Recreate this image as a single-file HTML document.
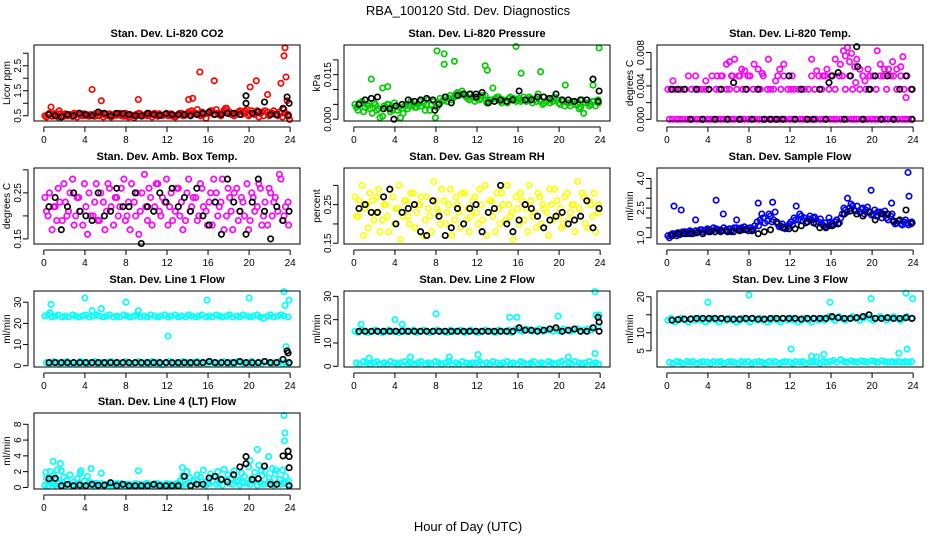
<!DOCTYPE html>
<html><head><meta charset="utf-8"><style>
html,body{margin:0;padding:0;background:#fff;}
svg{display:block;font-family:"Liberation Sans",Arial,sans-serif;}
</style></head><body>
<svg id="chart" width="936" height="540" viewBox="0 0 936 540">
<text x="468" y="15" text-anchor="middle" font-size="13">RBA_100120  Std. Dev. Diagnostics</text>
<text x="468" y="531" text-anchor="middle" font-size="13">Hour of Day (UTC)</text>
<g id="panels"></g>
</svg>
<script>
const hours=[0.1,0.4,0.8,1.1,1.4,1.8,2.1,2.4,2.8,3.1,3.4,3.8,4.1,4.4,4.8,5.1,5.4,5.8,6.1,6.4,6.8,7.1,7.4,7.8,8.1,8.4,8.8,9.1,9.4,9.8,10.1,10.4,10.8,11.1,11.4,11.8,12.1,12.4,12.8,13.1,13.4,13.8,14.1,14.4,14.8,15.1,15.4,15.8,16.1,16.4,16.8,17.1,17.4,17.8,18.1,18.4,18.8,19.1,19.4,19.8,20.1,20.4,20.8,21.1,21.4,21.8,22.1,22.4,22.8,23.1,23.4,23.8];
const hoursB=[0.25,0.55,0.95,1.25,1.55,1.95,2.25,2.55,2.95,3.25,3.55,3.95,4.25,4.55,4.95,5.25,5.55,5.95,6.25,6.55,6.95,7.25,7.55,7.95,8.25,8.55,8.95,9.25,9.55,9.95,10.25,10.55,10.95,11.25,11.55,11.95,12.25,12.55,12.95,13.25,13.55,13.95,14.25,14.55,14.95,15.25,15.55,15.95,16.25,16.55,16.95,17.25,17.55,17.95,18.25,18.55,18.95,19.25,19.55,19.95,20.25,20.55,20.95,21.25,21.55,21.95,22.25,22.55,22.95,23.25,23.55,23.85];
const blackHours=[0.5,1.1,1.7,2.3,2.9,3.5,4.1,4.7,5.3,5.9,6.5,7.1,7.7,8.3,8.9,9.5,10.1,10.7,11.3,11.9,12.5,13.1,13.7,14.3,14.9,15.5,16.1,16.7,17.3,17.9,18.5,19.1,19.7,20.3,20.9,21.5,22.1,22.7,23.3,23.9];
const xTicks=[0,4,8,12,16,20,24];

const co2A=[0.5,0.55,0.48,0.6,0.45,0.52,0.58,0.5,0.47,0.55,0.6,0.5,0.52,0.48,0.55,0.6,0.5,0.45,0.55,0.58,0.5,0.52,0.6,0.48,0.5,0.55,0.42,0.5,0.58,0.52,0.5,0.55,0.6,0.48,0.52,0.55,0.5,0.58,0.45,0.55,0.6,0.52,0.65,0.7,0.6,0.55,0.65,0.4,0.6,0.7,0.75,0.55,0.6,0.8,0.65,0.55,0.6,0.7,0.65,0.75,0.55,0.6,0.7,0.6,0.5,0.65,0.55,0.7,0.5,0.6,0.75,0.55];
const co2B=[0.45,0.6,0.55,0.5,0.58,0.48,0.5,0.55,0.6,0.45,0.52,0.58,0.5,0.55,0.48,0.52,0.6,0.55,0.5,0.45,0.58,0.55,0.5,0.6,0.45,0.52,0.55,0.6,0.48,0.55,0.6,0.45,0.52,0.58,0.5,0.6,0.55,0.48,0.5,0.6,0.5,0.58,0.55,0.6,0.75,0.5,0.55,0.6,0.7,0.55,0.6,0.5,0.72,0.6,0.55,0.5,0.65,0.55,0.6,0.5,0.7,0.55,0.45,0.65,0.7,0.5,0.6,0.55,0.65,0.45,0.6,0.5];
const co2OutHours=[0.7,1.5,4.7,5.6,9.2,14.1,14.5,15.2,16.6,17.7,19.6,20.1,20.7,21.8,23.1,23.4,23.5,23.6,23.7,23.95];
const co2Out=[0.85,0.7,1.55,1.1,1.15,1.15,1.2,2.25,1.9,0.8,0.7,1.65,1.9,1.35,1.8,2.9,3.22,2.05,1.1,0.35];
const co2Black=[0.55,0.5,0.45,0.55,0.5,0.6,0.55,0.5,0.65,0.6,0.5,0.6,0.58,0.55,0.5,0.5,0.6,0.55,0.52,0.58,0.55,0.55,0.55,0.5,0.55,0.6,0.65,0.55,0.55,0.6,0.6,0.55,1.3,0.6,0.65,1.05,0.55,0.55,0.8,1.0];
const co2BlackOutHours=[19.7,23.7,23.8];
const co2BlackOut=[1.0,1.25,0.5];

const presA=[0.005,0.003,0.006,0.004,0.0045,0.002,0.005,0.0035,0.001,0.004,0.005,0.003,0.0045,0.004,0.002,0.005,0.0045,0.005,0.004,0.006,0.0055,0.005,0.003,0.006,0.004,0.007,0.0065,0.006,0.008,0.0075,0.009,0.0085,0.008,0.007,0.0085,0.006,0.0075,0.007,0.008,0.006,0.0065,0.007,0.0075,0.0055,0.006,0.007,0.0065,0.006,0.007,0.0065,0.006,0.0075,0.0055,0.006,0.0065,0.005,0.006,0.0055,0.006,0.0065,0.005,0.006,0.0055,0.0045,0.006,0.005,0.004,0.002,0.0055,0.005,0.006,0.0065];
const presB=[0.004,0.0055,0.0025,0.005,0.0035,0.0055,0.003,0.0005,0.0045,0.005,0.0025,0.0055,0.003,0.0005,0.0045,0.0035,0.006,0.004,0.005,0.0045,0.003,0.0065,0.005,0.0005,0.0055,0.006,0.0075,0.007,0.0065,0.0085,0.008,0.0095,0.0075,0.0065,0.0075,0.007,0.0065,0.008,0.0055,0.0065,0.0105,0.0075,0.006,0.0065,0.0055,0.0075,0.007,0.0065,0.006,0.0075,0.0065,0.007,0.0065,0.0085,0.006,0.0055,0.007,0.0065,0.0075,0.0055,0.0065,0.0045,0.0055,0.006,0.005,0.0035,0.0065,0.0055,0.0045,0.006,0.0045,0.0055];
const presOutHours=[1.7,2.8,3.3,8.1,8.8,8.8,9.8,12.8,13.0,15.8,16.3,18.2,20.6,23.3,23.9];
const presOut=[0.0135,0.0105,0.011,0.023,0.022,0.0185,0.0195,0.018,0.0165,0.0245,0.0155,0.016,0.0115,0.0115,0.024];
const presBlack=[0.005,0.0065,0.007,0.0075,0.0035,0.0035,0.0045,0.005,0.0065,0.006,0.0065,0.007,0.0065,0.005,0.0075,0.0055,0.008,0.0085,0.0085,0.0075,0.009,0.0055,0.006,0.0065,0.006,0.0065,0.0095,0.0065,0.0065,0.0075,0.0075,0.007,0.0085,0.0065,0.0065,0.006,0.0065,0.0065,0.0135,0.0095];
const presBlackOutHours=[3.9,7.9,11.9,23.8];
const presBlackOut=[0.0,0.003,0.0085,0.006];

const tempA=[0.0036,0.0036,0.0036,0.0036,0.0036,0.0036,0.0052,0.0036,0.0036,0.0036,0.0036,0.0036,0.0036,0.0052,0.0036,0.0036,0.0052,0.0036,0.0036,0.0052,0.0036,0.0052,0.0036,0.0036,0.0052,0.0036,0.0036,0.0036,0.0052,0.0036,0.0036,0.0036,0.0052,0.0036,0.0052,0.0036,0.0036,0.0036,0.0036,0.0036,0.0036,0.0036,0.0052,0.0036,0.0052,0.0036,0.0052,0.0036,0.0052,0.0036,0.0052,0.0052,0.0036,0.0052,0.0036,0.0044,0.0036,0.0052,0.0036,0.0052,0.0052,0.0036,0.0052,0.0052,0.0036,0.0052,0.0052,0.0036,0.0052,0.0036,0.0052,0.0036];
const tempB=[0,0,0,0,0,0,0,0,0,0,0,0,0,0,0,0,0,0,0,0,0,0,0,0,0,0,0,0,0,0,0,0,0,0,0,0,0,0,0,0,0,0,0,0,0,0,0,0,0,0,0,0,0,0,0,0,0,0,0,0,0,0,0,0,0,0,0,0,0,0,0,0];
const tempOutHours=[0.6,2.8,3.8,4.9,5.3,5.8,6.1,6.3,6.6,7.0,7.3,7.6,7.9,8.5,8.9,9.3,9.9,10.6,11.0,11.4,12.2,14.1,14.6,15.2,15.6,16.0,16.4,16.9,17.2,17.4,17.6,17.8,18.0,18.3,18.5,18.8,19.1,19.3,19.6,20.5,20.8,21.2,21.6,22.0,22.4,22.8,23.0,23.3];
const tempOut=[0.0046,0.0052,0.0046,0.0052,0.0052,0.0066,0.0069,0.0052,0.0072,0.0052,0.006,0.0058,0.0052,0.0066,0.006,0.0055,0.0072,0.0046,0.006,0.0066,0.0052,0.0072,0.0058,0.0052,0.006,0.0052,0.0072,0.0066,0.0082,0.0076,0.0086,0.0069,0.0079,0.0063,0.0072,0.006,0.0052,0.0046,0.006,0.0082,0.0066,0.006,0.006,0.0069,0.006,0.0063,0.0075,0.0026];
const tempBlack=[0.0036,0.0036,0.0036,0,0.0036,0,0.0036,0,0.0036,0,0.0044,0,0.0036,0,0.0036,0,0,0,0,0.0052,0,0.0036,0,0,0.0036,0,0.0052,0.0056,0,0.0052,0.0087,0,0.0036,0.0052,0,0.0052,0,0.0036,0.0052,0.0036];
const tempBlackOutHours=[15.8,18.6,19.8,23.9];
const tempBlackOut=[0.0044,0.0063,0.0036,0];

const ambA=[0.24,0.2,0.17,0.22,0.26,0.19,0.23,0.21,0.28,0.2,0.24,0.18,0.22,0.25,0.2,0.27,0.19,0.23,0.21,0.26,0.18,0.24,0.22,0.28,0.2,0.17,0.23,0.25,0.21,0.29,0.19,0.24,0.22,0.27,0.2,0.23,0.18,0.25,0.21,0.26,0.23,0.19,0.28,0.22,0.24,0.2,0.26,0.21,0.23,0.18,0.25,0.22,0.28,0.2,0.24,0.17,0.26,0.21,0.23,0.27,0.19,0.24,0.22,0.26,0.2,0.18,0.25,0.23,0.21,0.28,0.2,0.23];
const ambB=[0.21,0.25,0.22,0.19,0.23,0.27,0.2,0.25,0.18,0.24,0.21,0.27,0.16,0.2,0.23,0.19,0.25,0.17,0.27,0.22,0.24,0.2,0.26,0.19,0.23,0.27,0.2,0.16,0.25,0.22,0.26,0.18,0.27,0.21,0.24,0.28,0.22,0.19,0.26,0.2,0.17,0.25,0.21,0.24,0.19,0.27,0.22,0.18,0.25,0.28,0.2,0.23,0.17,0.26,0.21,0.25,0.19,0.24,0.2,0.17,0.25,0.21,0.27,0.18,0.23,0.26,0.2,0.24,0.29,0.19,0.22,0.18];
const ambBlack=[0.22,0.24,0.17,0.22,0.25,0.21,0.2,0.19,0.25,0.2,0.21,0.26,0.22,0.22,0.25,0.14,0.22,0.21,0.25,0.23,0.26,0.22,0.24,0.21,0.26,0.2,0.18,0.23,0.16,0.28,0.23,0.21,0.16,0.23,0.28,0.21,0.15,0.22,0.19,0.21];

const rhA=[0.27,0.22,0.3,0.24,0.19,0.26,0.23,0.29,0.21,0.25,0.18,0.27,0.24,0.3,0.22,0.26,0.2,0.28,0.23,0.25,0.17,0.27,0.22,0.31,0.24,0.2,0.26,0.23,0.29,0.21,0.25,0.19,0.28,0.24,0.22,0.27,0.2,0.25,0.3,0.23,0.26,0.18,0.24,0.28,0.21,0.25,0.23,0.27,0.2,0.26,0.24,0.3,0.22,0.19,0.27,0.25,0.23,0.29,0.21,0.26,0.24,0.2,0.28,0.23,0.25,0.31,0.22,0.27,0.19,0.25,0.28,0.23];
const rhB=[0.22,0.26,0.17,0.25,0.28,0.21,0.27,0.18,0.25,0.22,0.29,0.2,0.24,0.16,0.26,0.22,0.28,0.19,0.25,0.27,0.21,0.24,0.18,0.26,0.23,0.29,0.2,0.25,0.17,0.27,0.23,0.28,0.21,0.18,0.26,0.23,0.29,0.21,0.17,0.26,0.22,0.28,0.2,0.25,0.3,0.22,0.16,0.24,0.28,0.21,0.18,0.26,0.23,0.28,0.2,0.24,0.17,0.25,0.29,0.22,0.19,0.27,0.21,0.25,0.18,0.24,0.28,0.2,0.26,0.22,0.18,0.25];
const rhBlack=[0.24,0.25,0.23,0.23,0.27,0.29,0.2,0.23,0.24,0.25,0.18,0.17,0.26,0.22,0.17,0.19,0.24,0.2,0.24,0.25,0.18,0.23,0.24,0.3,0.2,0.18,0.21,0.25,0.24,0.22,0.19,0.21,0.22,0.23,0.2,0.21,0.22,0.26,0.19,0.24];

const sfA=[1.1,1.15,1.2,1.25,1.2,1.3,1.25,1.3,1.35,1.3,1.4,1.35,1.4,1.35,1.45,1.4,1.35,1.4,1.45,1.4,1.5,1.45,1.4,1.45,1.5,1.45,1.8,1.9,2.0,1.85,2.1,1.9,1.7,1.6,1.5,1.55,1.8,2.0,1.9,2.1,2.0,1.95,1.9,2.05,1.8,1.7,1.75,1.6,1.7,1.8,1.75,2.2,2.4,2.5,2.6,2.35,2.3,2.5,2.4,2.3,2.2,2.1,2.3,2.2,2.0,2.1,1.8,1.75,1.7,1.8,1.75,1.7];
const sfB=[1.0,1.2,1.1,1.15,1.3,1.2,1.35,1.2,1.25,1.4,1.3,1.45,1.3,1.5,1.4,1.3,1.5,1.35,1.3,1.5,1.4,1.5,1.55,1.35,1.4,1.6,1.6,2.2,1.75,2.2,1.8,2.3,1.55,1.7,1.45,1.7,1.65,1.9,2.2,1.85,1.75,2.1,2.0,1.7,1.95,1.6,1.55,1.8,1.65,1.9,2.0,2.5,2.3,2.7,2.4,2.6,2.45,2.2,2.55,2.15,2.4,2.3,2.0,2.35,1.9,2.2,1.7,1.85,1.65,1.9,1.65,1.8];
const sfOutHours=[0.7,1.4,2.8,4.8,5.5,6.8,8.9,10.3,12.6,15.8,17.6,19.9,21.9,23.5,23.6];
const sfOut=[2.6,2.4,1.9,2.9,2.2,1.9,2.75,2.8,2.6,2.0,3.0,3.4,2.75,4.3,3.1];
const sfBlack=[1.1,1.2,1.2,1.2,1.25,1.2,1.3,1.3,1.35,1.3,1.3,1.35,1.4,1.35,1.2,1.3,1.4,1.8,1.5,1.45,1.45,1.6,1.8,1.75,1.5,1.5,1.6,1.7,2.2,2.35,2.2,2.1,2.3,1.9,2.2,2.2,1.85,1.9,2.4,1.75];

const l1A=[23.5,24,23,23.5,24,23,23.5,23,24,23.5,23,23.5,24,23,23.5,24,23.5,23,23.5,24,23,23.5,23,24,23.5,23,23.5,24,23,23.5,23,24,23.5,23,23.5,24,23,23.5,24,23,23.5,23,24,23.5,23,23.5,24,23,23.5,23,24,23.5,23,23.5,24,23,23.5,23,24,23.5,23,23.5,24,23,22.5,23.5,24,23,23.5,24,23.5,23];
const l1B=[1.5,1,2,1.5,1,1.5,2,1,1.5,1,2,1.5,1,1.5,2,1,1.5,1,1.5,2,1,1.5,1,2,1.5,1,1.5,2,1,1.5,1,2,1.5,1,0.5,1.5,2,1,1.5,1,2,1.5,1,1.5,2,1,1.5,1,2,1.5,1,1.5,2,1,1.5,1,2,1.5,1,1.5,2,1,1.5,1,2,1.5,1,1.5,2,1,1.5,1];
const l1OutHours=[0.6,0.7,4.0,4.7,5.6,8.0,9.2,12.1,15.9,20.0,23.4,23.5,23.6,23.9];
const l1Out=[25,29,32,26,27,30,26,14,31,32,35,28.5,9,31];
const l1Black=[1.5,1.5,1.5,1.5,1.5,1.5,1.5,1.5,1.5,1.5,1.5,1.5,1.5,1.5,1.5,1.5,1.5,1.5,1.5,1.5,1.5,1.5,1.5,1.5,1.5,1.5,2,1.5,1.5,1.5,1.5,2,1.5,1.5,1.5,2,1.5,1.5,3,1.5];
const l1BlackOutHours=[23.7,23.8];
const l1BlackOut=[7,6];

const l2A=[15,14.5,15.5,15,14.5,15,15.5,15,14.5,15,15.5,15,15,14.5,15.5,15,15,15.5,14.5,15,15.5,15,14.5,15,15.5,15,15,14.5,15.5,15,15,15.5,14.5,15,15.5,15,14.5,15,15.5,15,15,14.5,15.5,15,15,15.5,14.5,16,15.5,15,16,15.5,15,15.5,16,15,15.5,16,15,15.5,15,16,15.5,15,15.5,16,15,15.5,16,15.5,16.5,17];
const l2B=[1.5,1,2,1.5,1,1.5,2,1,1.5,1,2,1.5,1,1.5,2,1,1.5,1,1.5,2,1,1.5,1,2,1.5,1,1.5,2,1,1.5,1,2,1.5,1,1.5,1.5,2,1,1.5,1,2,1.5,1,1.5,2,1,1.5,1,2,1.5,1,1.5,2,1,1.5,1,2,1.5,1,1.5,2,1,1.5,1,2,1.5,1,1.5,2,1,1.5,1];
const l2OutHours=[0.7,1.5,4.0,4.7,5.5,8.0,9.3,12.1,15.2,15.9,19.9,20.9,23.5,23.6,23.5,23.9];
const l2Out=[18,3.5,20,18,4,22.5,4,5,21,21,21.5,4,32,22,5.5,22];
const l2Black=[15,15,15,15,15,15,15,15,15,15,15,15,15,15,15,15,15,15,15,15,15,15,15,15,15,15,16.5,15.5,15.5,15,15.5,16,16.5,15,15.5,16,15,15,16.5,19];
const l2BlackOutHours=[23.8,23.9];
const l2BlackOut=[21,15];

const l3A=[13.5,14,13,13.5,14,13.5,13,14,13.5,14,13.5,13,13.5,14,13.5,13,14,13.5,14,13.5,13,13.5,14,13.5,13,14,13.5,14,13.5,13,13.5,14,13.5,13,14,13.5,14,13.5,13,13.5,14,13.5,13,14,13.5,14,13.5,14.5,14,13.5,14.5,14,13.5,14,14.5,14,13.5,14,14.5,14,13.5,14,14.5,14,13.5,14,14.5,14,13.5,14,14.5,14];
const l3B=[1.8,1.5,2,1.8,1.5,2,1.8,2,1.5,1.8,2,1.8,1.5,2,1.8,2,1.5,1.8,2,1.8,1.5,2,1.8,2,1.5,1.8,2,1.8,1.5,2,1.8,2,1.5,1.8,2,1.8,1.5,2,1.8,2,1.5,1.8,2,1.8,1.5,2,1.8,2,2.3,1.8,2.5,2,1.8,2.2,2,1.8,2.2,2,1.8,2.2,2,1.8,2.2,2,1.8,2,1.8,2,1.8,2,1.8,2];
const l3OutHours=[4.0,8.0,12.1,14.1,14.6,15.3,15.9,19.9,22.6,23.3,23.4,23.95];
const l3Out=[18.5,20.5,5.5,3.5,3.3,4,18.5,19.5,4.3,21,5.5,19.5];
const l3Black=[13.5,13.7,13.8,13.8,14,14,14,14,14,13.8,13.8,13.8,14,14,13.8,13.8,14,14,14,14,14,13.8,14,14,14,14,14.5,14.2,14,14,14.2,14.5,15,14,14,14.2,14,14,14.2,14];

const l4A=[0.3,0.2,0.4,0.3,0.5,0.2,0.3,0.4,0.2,0.3,0.5,0.2,0.3,0.4,0.2,0.5,0.3,0.2,0.4,0.3,0.2,0.5,0.3,0.2,0.4,0.3,0.2,0.3,0.4,0.2,0.5,0.3,0.2,0.4,0.3,0.2,0.3,0.4,0.2,0.5,0.3,0.4,0.6,0.3,0.5,0.4,0.7,0.3,0.5,0.8,0.4,0.6,0.3,0.9,0.5,0.4,0.7,0.3,0.6,0.5,0.4,0.8,0.3,0.6,0.4,0.5,0.7,0.3,0.6,0.4,0.5,0.4];
const l4B=[1.2,0.8,1.5,1,0.6,1.3,0.9,1.6,0.7,1.1,1.8,0.8,1.4,0.6,0.5,0.4,0.5,0.3,0.4,0.5,0.3,0.4,0.5,0.3,0.4,0.3,0.5,0.4,0.3,0.5,0.4,0.3,0.5,0.4,0.3,0.5,0.4,0.3,0.5,0.8,1.5,2.0,1.2,0.9,1.6,1.3,2.2,0.8,1.7,1.4,2.0,1.1,2.3,1.6,1.2,2.1,0.9,1.8,1.4,2.6,1.1,1.9,2.8,1.5,2.0,1.2,2.4,1.7,1.0,2.2,1.4,0.8];
const l4OutHours=[0.2,0.6,0.9,1.3,1.6,1.7,3.6,4.6,5.6,9.2,13.5,20.1,20.8,21.2,21.9,22.6,23.4,23.5,23.45];
const l4Out=[1.9,2,3.3,2.2,3,2.1,2.1,2.4,1.8,2.1,2.5,3.4,4.8,2.1,3.9,2.2,9.1,6.9,5.9];
const l4Black=[1.1,1.15,0.2,0.4,0.2,0.3,0.2,0.4,0.25,0.3,0.6,0.2,0.4,0.2,0.2,0.2,0.2,0.4,0.2,0.2,0.2,0.2,1.4,0.2,0.4,0.4,1.2,1.4,1.0,0.7,1.6,2.6,3.9,1.0,1.1,2.7,0.4,0.4,4.0,2.5];
const l4BlackOutHours=[23.8,23.9,19.7,23.9];
const l4BlackOut=[4.6,3.9,3.0,0.2];

const RED='#ff0000',GRN='#00cc00',MAG='#ff00ff',YEL='#ffff00',BLU='#0000ff',CYN='#00ffff',BLK='#000000';
const panels=[
 {key:'co2',title:'Stan. Dev. Li-820 CO2',ylab:'Licor ppm',col:0,row:0,ymin:0.29,ymax:3.33,yt:[0.5,1,1.5,2,2.5,3],yl:['0.5','','1.5','','2.5',''],
  s:[[hours,co2A,RED],[hoursB,co2B,RED],[co2OutHours,co2Out,RED],[blackHours,co2Black,BLK],[co2BlackOutHours,co2BlackOut,BLK]]},
 {key:'pressure',title:'Stan. Dev. Li-820 Pressure',ylab:'kPa',col:1,row:0,ymin:-0.0006,ymax:0.025,yt:[0,0.005,0.01,0.015,0.02],yl:['0.000','','','0.015',''],
  s:[[hours,presA,GRN],[hoursB,presB,GRN],[presOutHours,presOut,GRN],[blackHours,presBlack,BLK],[presBlackOutHours,presBlackOut,BLK]]},
 {key:'temp',title:'Stan. Dev. Li-820 Temp.',ylab:'degrees C',col:2,row:0,ymin:-0.0002,ymax:0.0089,yt:[0,0.002,0.004,0.006,0.008],yl:['0.000','','0.004','','0.008'],
  s:[[hours,tempA,MAG],[hoursB,tempB,MAG],[tempOutHours,tempOut,MAG],[blackHours,tempBlack,BLK],[tempBlackOutHours,tempBlackOut,BLK]]},
 {key:'amb-temp',title:'Stan. Dev. Amb. Box Temp.',ylab:'degrees C',col:0,row:1,ymin:0.139,ymax:0.304,yt:[0.15,0.2,0.25,0.3],yl:['0.15','','0.25',''],
  s:[[hours,ambA,MAG],[hoursB,ambB,MAG],[blackHours,ambBlack,BLK]]},
 {key:'rh',title:'Stan. Dev. Gas Stream RH',ylab:'percent',col:1,row:1,ymin:0.148,ymax:0.345,yt:[0.15,0.2,0.25,0.3],yl:['0.15','','0.25',''],
  s:[[hours,rhA,YEL],[hoursB,rhB,YEL],[blackHours,rhBlack,BLK]]},
 {key:'sample-flow',title:'Stan. Dev. Sample Flow',ylab:'ml/min',col:2,row:1,ymin:0.68,ymax:4.53,yt:[1,1.5,2,2.5,3,3.5,4],yl:['1.0','','','2.5','','','4.0'],
  s:[[hours,sfA,BLU],[hoursB,sfB,BLU],[sfOutHours,sfOut,BLU],[blackHours,sfBlack,BLK]]},
 {key:'line1',title:'Stan. Dev. Line 1 Flow',ylab:'ml/min',col:0,row:2,ymin:-0.6,ymax:35.3,yt:[0,10,20,30],yl:['0','10','20','30'],
  s:[[hours,l1A,CYN],[hoursB,l1B,CYN],[l1OutHours,l1Out,CYN],[blackHours,l1Black,BLK],[l1BlackOutHours,l1BlackOut,BLK]]},
 {key:'line2',title:'Stan. Dev. Line 2 Flow',ylab:'ml/min',col:1,row:2,ymin:-0.3,ymax:32.3,yt:[0,10,20,30],yl:['0','10','20','30'],
  s:[[hours,l2A,CYN],[hoursB,l2B,CYN],[l2OutHours,l2Out,CYN],[blackHours,l2Black,BLK],[l2BlackOutHours,l2BlackOut,BLK]]},
 {key:'line3',title:'Stan. Dev. Line 3 Flow',ylab:'ml/min',col:2,row:2,ymin:0.5,ymax:21.6,yt:[5,10,15,20],yl:['5','10','','20'],
  s:[[hours,l3A,CYN],[hoursB,l3B,CYN],[l3OutHours,l3Out,CYN],[blackHours,l3Black,BLK]]},
 {key:'line4',title:'Stan. Dev. Line 4 (LT) Flow',ylab:'ml/min',col:0,row:3,ymin:-0.2,ymax:9.43,yt:[0,2,4,6,8],yl:['0','2','4','6','8'],
  s:[[hours,l4A,CYN],[hoursB,l4B,CYN],[l4OutHours,l4Out,CYN],[blackHours,l4Black,BLK],[l4BlackOutHours,l4BlackOut,BLK]]}
];
const colLeft=[34,344,657],rowTop=[45,168,291,413],W=266,H=76,XMIN=-0.96,XMAX=24.96;
const NS='http://www.w3.org/2000/svg';
const root=document.getElementById('panels');
function mk(tag,attrs,parent){const e=document.createElementNS(NS,tag);for(const k in attrs)e.setAttribute(k,attrs[k]);parent.appendChild(e);return e;}
panels.forEach(p=>{
  const L=colLeft[p.col],T=rowTop[p.row];
  const xs=h=>L+(h-XMIN)/(XMAX-XMIN)*W;
  const ys=v=>T+H-(v-p.ymin)/(p.ymax-p.ymin)*H;
  const g=mk('g',{},root);
  
  
  const t=mk('text',{x:L+W/2,y:T-8,'text-anchor':'middle','font-size':'11','font-weight':'bold'},g);
  
  
  t.textContent=p.title;
  const yl=mk('text',{x:L-24,y:T+H/2,'text-anchor':'middle','font-size':'10',transform:`rotate(-90 ${L-24} ${T+H/2})`},g);
  
  
  yl.textContent=p.ylab;
  const pts=mk('g',{fill:'none','stroke-width':'1.7'},g);
  
  
  p.s.forEach(([xa,ya,c])=>{
    for(let i=0;i<ya.length;i++){
      const y=ys(ya[i]);
      if(y<T-2||y>T+H+2)continue;
      const cc=mk('circle',{cx:xs(xa[i]).toFixed(1),cy:y.toFixed(1),r:'2.7',stroke:c},pts);
      
      
    }
  });
  const box=mk('rect',{x:L,y:T,width:W,height:H,fill:'none',stroke:'#000','stroke-width':'1'},g);
  
  
  const ax=mk('g',{stroke:'#000','stroke-width':'1'},g);
  
  
  mk('line',{x1:xs(xTicks[0]),x2:xs(xTicks[xTicks.length-1]),y1:T+H+6,y2:T+H+6},ax);
  xTicks.forEach(v=>{
    mk('line',{x1:xs(v),x2:xs(v),y1:T+H+6,y2:T+H+11},ax);
    const tl=mk('text',{x:xs(v),y:T+H+22,'text-anchor':'middle','font-size':'10',stroke:'none'},ax);
    
    
    tl.textContent=String(v);
  });
  const ay=mk('g',{stroke:'#000','stroke-width':'1'},g);
  
  
  mk('line',{x1:L-6,x2:L-6,y1:ys(p.yt[0]),y2:ys(p.yt[p.yt.length-1])},ay);
  p.yt.forEach((v,i)=>{
    mk('line',{x1:L-11,x2:L-6,y1:ys(v),y2:ys(v)},ay);
    if(p.yl[i]){
      const lx=L-13,ly=ys(v);
      const tl=mk('text',{x:lx,y:ly,'text-anchor':'middle','font-size':'10',stroke:'none',transform:`rotate(-90 ${lx} ${ly})`},ay);
      
      
      tl.textContent=p.yl[i];
    }
  });
});
</script>
</body></html>
